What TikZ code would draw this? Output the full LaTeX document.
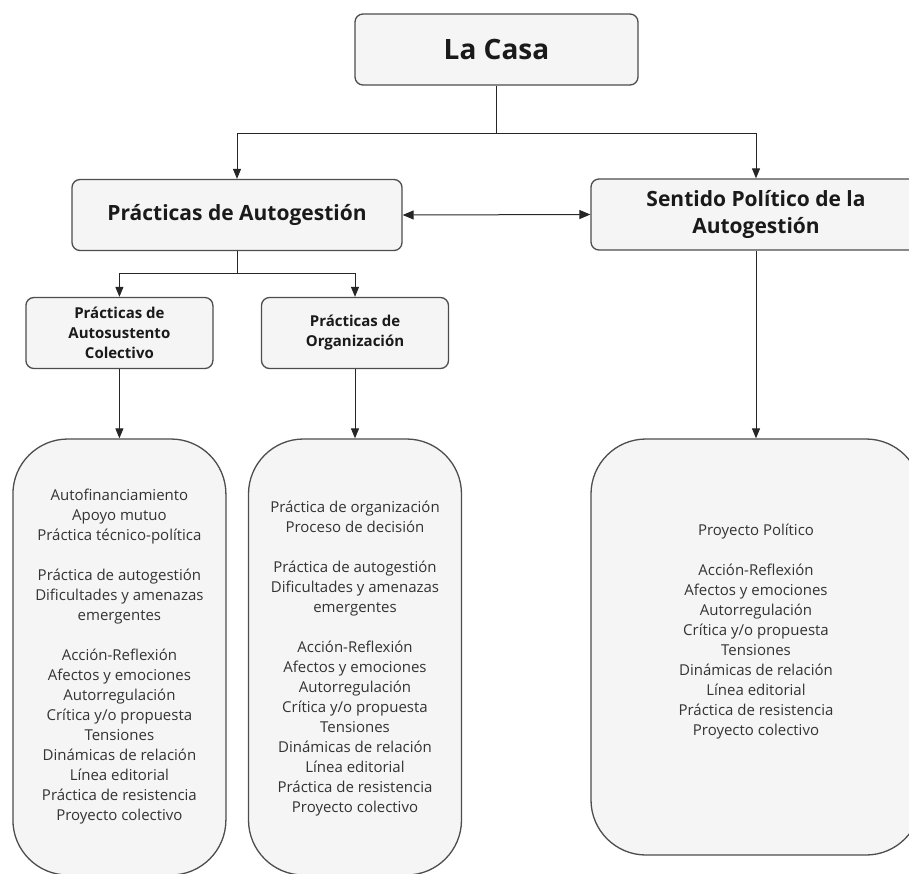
\documentclass[tikz,border=0pt]{standalone}
\usepackage{fontspec}
\setmainfont{Open Sans}
\usetikzlibrary{arrows.meta}
\definecolor{boxfill}{HTML}{F5F5F5}
\definecolor{boxline}{HTML}{4D4D4D}
\definecolor{headtext}{HTML}{1A1A1A}
\definecolor{listcolor}{HTML}{333333}
\tikzset{
  basebox/.style={draw=boxline, fill=boxfill, line width=1.3pt, rounded corners=8pt, align=center, inner sep=0pt},
  casabox/.style={basebox, minimum width=283pt, minimum height=71pt, text=headtext, font=\bfseries\fontsize{28}{34}\selectfont},
  headbox/.style={basebox, minimum width=330pt, minimum height=71pt, text=headtext, font=\bfseries\fontsize{21}{27}\selectfont},
  subbox/.style={basebox, minimum width=187pt, minimum height=71pt, text=headtext, font=\bfseries\fontsize{15}{20}\selectfont},
  listbox/.style={basebox, rounded corners=55pt},
  listtext/.style={align=center, text=listcolor, font=\fontsize{15}{20}\selectfont},
  link/.style={draw=black!85, line width=1pt, -{Triangle[length=10pt,width=8pt]}},
  twoway/.style={draw=black!85, line width=1pt, {Triangle[length=11pt,width=9pt]}-{Triangle[length=11pt,width=9pt]}}
}

\begin{document}
\begin{tikzpicture}[x=1pt,y=-1pt]
\useasboundingbox (0,0) rectangle (909,873);
\node[casabox] (casa) at (496.5,49.5) {La Casa};
\node[headbox] (prac) at (237,215) {Prácticas de Autogestión};
\node[headbox] (sent) at (756,214.5) {Sentido Político de la\\Autogestión};
\node[subbox] (susten) at (119.4,333) {Prácticas de\\Autosustento\\Colectivo};
\node[subbox] (organ) at (355,333) {Prácticas de\\Organización};
\node[listbox, minimum width=213pt, minimum height=436pt] (autobox) at (119.4,657) {};
\node[listbox, minimum width=213pt, minimum height=436pt] (orgbox) at (355,657) {};
\node[listbox, minimum width=330pt, minimum height=416pt] (polbox) at (756,647) {};
\node[listtext] (autotext) at (119.4,657) {Autofinanciamiento\\Apoyo mutuo\\Práctica técnico-política\\[20pt]
Práctica de autogestión\\Dificultades y amenazas\\emergentes\\[20pt]
Acción-Reflexión\\Afectos y emociones\\Autorregulación\\Crítica y/o propuesta\\Tensiones\\Dinámicas de relación\\Línea editorial\\Práctica de resistencia\\Proyecto colectivo};
\node[listtext] (orgtext) at (355,658.5) {Práctica de organización\\Proceso de decisión\\[20pt]
Práctica de autogestión\\Dificultades y amenazas\\emergentes\\[20pt]
Acción-Reflexión\\Afectos y emociones\\Autorregulación\\Crítica y/o propuesta\\Tensiones\\Dinámicas de relación\\Línea editorial\\Práctica de resistencia\\Proyecto colectivo};
\node[listtext] (poltext) at (756,632) {Proyecto Político\\[20pt]
Acción-Reflexión\\Afectos y emociones\\Autorregulación\\Crítica y/o propuesta\\Tensiones\\Dinámicas de relación\\Línea editorial\\Práctica de resistencia\\Proyecto colectivo};
\coordinate (casafork) at (496.5,133);
\coordinate (pracfork) at (237,273.5);
\draw[link] (casa.south) -- (casafork) -| (prac.north);
\draw[link] (casafork) -| (sent.north);
\draw[twoway] (prac.east) -- (sent.west);
\draw[link] (prac.south) -- (pracfork) -| (susten.north);
\draw[link] (pracfork) -| (organ.north);
\draw[link] (susten.south) -- (autobox.north);
\draw[link] (organ.south) -- (orgbox.north);
\draw[link] (sent.south) -- (polbox.north);
\end{tikzpicture}
\end{document}
